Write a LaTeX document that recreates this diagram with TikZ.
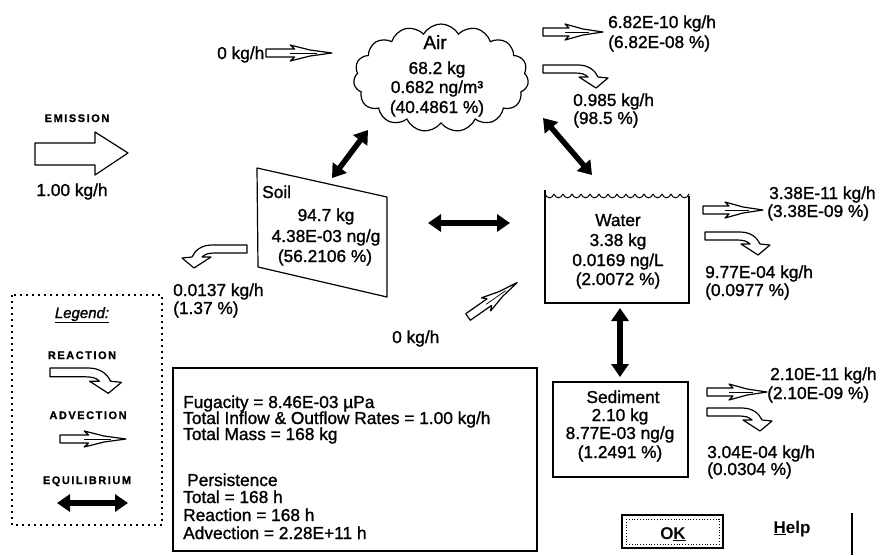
\documentclass[tikz,border=0pt]{standalone}
\usepackage{fontspec}
\setmainfont{Liberation Sans}
\usetikzlibrary{arrows.meta,shapes.symbols}
\tikzset{
 lbl/.style={font=\fontsize{17.3}{19}\selectfont\addfontfeature{FakeBold=1.2}, inner sep=0pt, anchor=base west},
 clbl/.style={lbl, anchor=base},
 capl/.style={font=\fontsize{11}{12}\selectfont\bfseries\addfontfeature{LetterSpace=14,FakeBold=1}, inner sep=0pt, anchor=base},
 hollow/.style={draw, line width=1.2pt, fill=white, line join=round},
 box/.style={draw, line width=1.2pt},
 eqarrow/.style={line width=5.5pt, {Triangle[length=13pt,width=17pt]}-{Triangle[length=13pt,width=17pt]}},
 advarrow/.pic={\draw[hollow] (0,-4) -- (26,-4) -- (22,-8) -- (40,-3) -- (60,0) -- (40,3) -- (22,8) -- (26,4) -- (0,4) -- cycle;
   \draw[line width=0.7pt] (22,0) -- (46,0);},
 reactarrow/.pic={\draw[hollow] (0,0) -- (35,0) .. controls (45,0) and (52,5) .. (55,12) -- (65,13) -- (53,23) -- (36,12) -- (45,12) .. controls (42,9) and (38,8) .. (32,8) -- (0,8) -- cycle;},
}
\begin{document}
\begin{tikzpicture}[x=1pt,y=-1pt]
\useasboundingbox[fill=white] (0,0) rectangle (882,555);

% Emission
\node[capl] (emis) at (77,122) {EMISSION};
\draw[hollow] (35,143) -- (95,143) -- (95,132) -- (128,153) -- (95,175) -- (95,165) -- (35,165) -- cycle;
\node[clbl] (emisval) at (72,196) {1.00 kg/h};

% Air
\node[cloud, draw, line width=1.2pt, cloud puffs=15, cloud puff arc=120, aspect=1.7, minimum width=175pt, minimum height=108pt, inner sep=0pt] (air) at (441,78) {};
\node[clbl, font=\fontsize{19}{20}\selectfont\addfontfeature{FakeBold=1.2}] (airname) at (435,49) {Air};
\node[clbl] (airmass) at (437,74) {68.2 kg};
\node[clbl] (airconc) at (437,93) {0.682 ng/m³};
\node[clbl] (airpct) at (437,113) {(40.4861 \%)};

\node[lbl] (inair) at (217,59) {0 kg/h};
\pic[xscale=1.1] at (266,53) {advarrow};

\pic at (543,32) {advarrow};
\node[lbl] (airadv) at (608,28) {6.82E-10 kg/h};
\node[lbl] (airadvp) at (608,48) {(6.82E-08 \%)};
\pic at (543,65) {reactarrow};
\node[lbl] (airrx) at (573,106) {0.985 kg/h};
\node[lbl] (airrxp) at (573,124) {(98.5 \%)};

% Soil
\draw[box, line join=round] (257,168) -- (387,197) -- (387,297) -- (258,267) -- cycle;
\node[lbl] (soilname) at (262,198) {Soil};
\node[clbl] (soilmass) at (326,221) {94.7 kg};
\node[clbl] (soilconc) at (326,242) {4.38E-03 ng/g};
\node[clbl] (soilpct) at (325,262) {(56.2106 \%)};
\pic[xscale=-1] at (247,245) {reactarrow};
\node[lbl] (soilrx) at (173,296) {0.0137 kg/h};
\node[lbl] (soilrxp) at (173,314) {(1.37 \%)};

% Water
\draw[box] (545,190) -- (545,303) -- (690,303);
\draw[box] (689,303) -- (689,196);
\foreach \i in {0,...,15}{
  \draw[line width=1pt] ({545+\i*9},194) .. controls ({547+\i*9},199) and ({552+\i*9},199) .. ({554+\i*9},194);
}
\node[clbl] (watername) at (618,226) {Water};
\node[clbl] (watermass) at (618,246) {3.38 kg};
\node[clbl] (waterconc) at (618,266) {0.0169 ng/L};
\node[clbl] (waterpct) at (618,285) {(2.0072 \%)};
\pic at (703,210) {advarrow};
\node[lbl] (wadv) at (769,199) {3.38E-11 kg/h};
\node[lbl] (wadvp) at (767,217) {(3.38E-09 \%)};
\pic at (705,232) {reactarrow};
\node[lbl] (wrx) at (705,278) {9.77E-04 kg/h};
\node[lbl] (wrxp) at (705,296) {(0.0977 \%)};

\pic[rotate=35] at (468,317) {advarrow};
\node[lbl] (inwater) at (392,343) {0 kg/h};

% Sediment
\draw[box] (553,382) rectangle (688,477);
\node[clbl] (sedname) at (623,403) {Sediment};
\node[clbl] (sedmass) at (620,421) {2.10 kg};
\node[clbl] (sedconc) at (620,439) {8.77E-03 ng/g};
\node[clbl] (sedpct) at (620,458) {(1.2491 \%)};
\pic at (707,392) {advarrow};
\node[lbl] (sadv) at (770,380) {2.10E-11 kg/h};
\node[lbl] (sadvp) at (767,399) {(2.10E-09 \%)};
\pic at (707,408) {reactarrow};
\node[lbl] (srx) at (707,458) {3.04E-04 kg/h};
\node[lbl] (srxp) at (707,475) {(0.0304 \%)};

% Equilibrium arrows
\coordinate (as1) at (368,130);
\coordinate (as2) at (332,178);
\coordinate (aw1) at (543,118);
\coordinate (aw2) at (592,175);
\coordinate (sw1) at (428,223);
\coordinate (sw2) at (510,223);
\coordinate (ws1) at (620,308);
\coordinate (ws2) at (620,377);
\draw[eqarrow] (as1) -- (as2);
\draw[eqarrow] (aw1) -- (aw2);
\draw[eqarrow] (sw1) -- (sw2);
\draw[eqarrow] (ws1) -- (ws2);

% Legend
\draw[line width=2.5pt, dash pattern=on 2pt off 4pt] (12,295) rectangle (162,525);
\node[clbl, font=\fontsize{15}{16}\selectfont\itshape\addfontfeature{FakeBold=1.2}] (legt) at (82,318) {\underline{Legend:}};
\node[capl] (legrx) at (82,359) {REACTION};
\pic[scale=1.1] at (50,368) {reactarrow};
\node[capl] (legadv) at (88,419) {ADVECTION};
\pic[xscale=1.1] at (60,439) {advarrow};
\node[capl] (legeq) at (87,484) {EQUILIBRIUM};
\coordinate (le1) at (57,503);
\coordinate (le2) at (128,503);
\draw[eqarrow] (le1) -- (le2);

% Summary box
\draw[box] (173,368) rectangle (537,551);
\node[lbl] (fug) at (183,408) {Fugacity = 8.46E-03 µPa};
\node[lbl] (flow) at (183,424) {Total Inflow \& Outflow Rates = 1.00 kg/h};
\node[lbl] (tmass) at (183,440) {Total Mass = 168 kg};
\node[lbl] (pers) at (187,486) {Persistence};
\node[lbl] (ptot) at (183,503) {Total = 168 h};
\node[lbl] (prx) at (183,521) {Reaction = 168 h};
\node[lbl] (padv) at (183,539) {Advection = 2.28E+11 h};

% Buttons
\draw[line width=1.6pt] (622,515) rectangle (723,548);
\draw[line width=0.8pt, dotted] (626,519) rectangle (719,544);
\node[clbl, font=\fontsize{17}{18}\selectfont\bfseries] (ok) at (673,539) {O\underline{K}};
\node[clbl, font=\fontsize{17}{18}\selectfont\bfseries] (help) at (792,533) {\underline{H}elp};
\coordinate (vl1) at (852,513);
\coordinate (vl2) at (852,555);
\draw[line width=1.2pt] (vl1) -- (vl2);
\end{tikzpicture}
\end{document}
